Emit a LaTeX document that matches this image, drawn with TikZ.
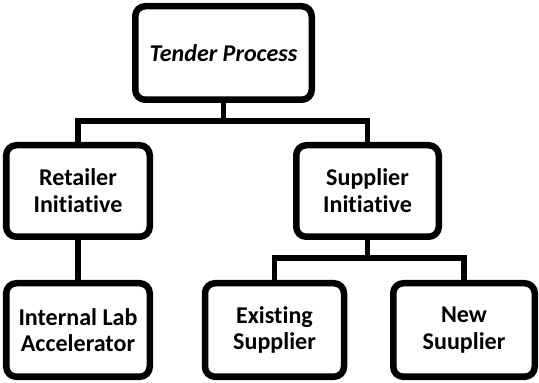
\documentclass[tikz,border=0pt]{standalone}
\usepackage{fontspec}
\setmainfont{Carlito}[Ligatures=NoCommon]
\usepackage{tikz}
\usetikzlibrary{positioning,calc}

\tikzset{
  orgbox/.style={draw, line width=3.7pt, rounded corners=0.2cm, align=center,
    font=\bfseries\fontsize{13.7}{15.2}\selectfont, inner sep=0pt,
    minimum height=1.87cm},
  link/.style={line width=3pt}
}

\begin{document}
\begin{tikzpicture}[x=1cm,y=1cm]
  \useasboundingbox (0,0) rectangle (10.78,7.66);
  % Boxes
  \node[orgbox,minimum width=3.53cm] (tender) at (4.47,6.6) {\itshape Tender Process};
  \node[orgbox,minimum width=2.87cm,minimum height=1.83cm] (retailer) at (1.56,3.84) {Retailer\\Initiative};
  \node[orgbox,minimum width=2.85cm,minimum height=1.83cm] (supplier) at (7.35,3.84) {Supplier\\Initiative};
  \node[orgbox,minimum width=2.87cm] (lab) at (1.56,1.06) {Internal Lab\\Accelerator};
  \node[orgbox,minimum width=2.78cm] (existing) at (5.49,1.06) {Existing\\Supplier};
  \node[orgbox,minimum width=2.83cm] (new) at (9.28,1.06) {New\\Suuplier};
  % Junction points
  \coordinate (split1) at (tender.south |- 0,5.24);
  \coordinate (split2) at (supplier.south |- 0,2.5);
  % Connectors
  \draw[link] (tender.south) -- (split1);
  \draw[link] (retailer.north) |- (split1) -| (supplier.north);
  \draw[link] (retailer.south) -- (lab.north);
  \draw[link] (supplier.south) -- (split2);
  \draw[link] (existing.north) |- (split2) -| (new.north);
\end{tikzpicture}
\end{document}
